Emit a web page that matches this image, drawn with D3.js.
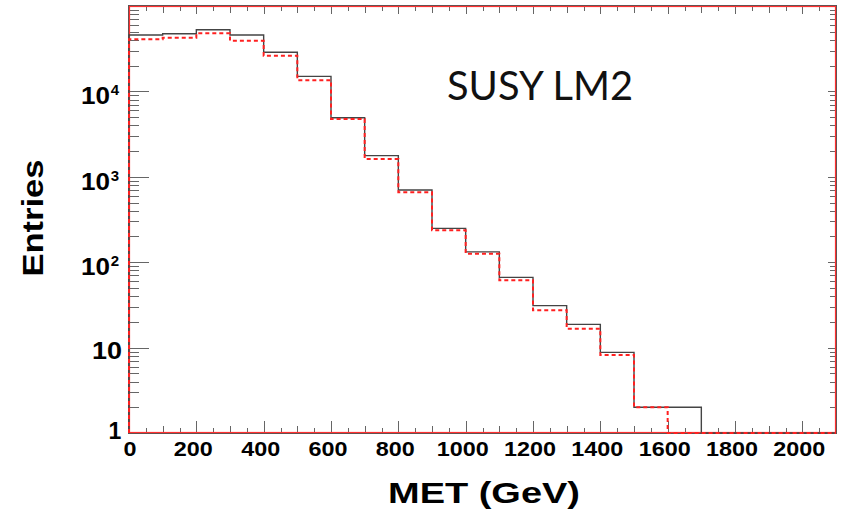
<!DOCTYPE html>
<html>
<head>
<meta charset="utf-8">
<style>
  body { margin: 0; background: #fff; }
  svg { display: block; }
  .tick line { shape-rendering: crispEdges; }
  .lab { font-family: "Liberation Sans", Arial, sans-serif; font-weight: bold; fill: #000; }
</style>
</head>
<body>
<script src="https://d3js.org/d3.v7.min.js"></script>
<script>
// bin lower edges (GeV), 100 GeV wide
var binLow = [0, 100, 200, 300, 400, 500, 600, 700, 800, 900, 1000,
              1100, 1200, 1300, 1400, 1500, 1600, 1700, 1800, 1900, 2000];
var binWidth = 100;
// solid (black) histogram
var blackVals = [45700, 47400, 52800, 45700, 28700, 15000, 4920, 1770, 700, 249, 132,
                 66.5, 31, 18.7, 8.8, 2, 2, 0, 0, 0, 0];
// dashed (red) histogram
var redVals = [40700, 42500, 47900, 39200, 26200, 13500, 4750, 1620, 658, 236, 126,
               61.4, 27.3, 16.6, 8.2, 2, 0, 0, 0, 0, 0];

var xMajor = [0, 200, 400, 600, 800, 1000, 1200, 1400, 1600, 1800, 2000];
var xMid = [100, 300, 500, 700, 900, 1100, 1300, 1500, 1700, 1900, 2100];
var xMinor = [50, 150, 250, 350, 450, 550, 650, 750, 850, 950, 1050, 1150, 1250,
              1350, 1450, 1550, 1650, 1750, 1850, 1950, 2050];
var yDecades = [1, 10, 100, 1000, 10000, 100000];
var yExp = ["", "", "2", "3", "4"];

var W = 842, H = 510;
var margin = {top: 6, right: 6, bottom: 77, left: 129},
    width = W - margin.left - margin.right,
    height = H - margin.top - margin.bottom;

var svg = d3.select("body").append("svg")
    .attr("width", W)
    .attr("height", H);

var g = svg.append("g")
    .attr("transform", "translate(" + margin.left + "," + margin.top + ")");

var x = d3.scaleLinear().domain([0, 2100]).range([0, width]);
var y = d3.scaleLog().domain([1, 100000]).range([height, 0]);

var yMinor = [];
yDecades.slice(0, -1).forEach(function(d) {
  [2, 3, 4, 5, 6, 7, 8, 9].forEach(function(k) { yMinor.push(d * k); });
});

function tickAxis(axis, cls) {
  var a = g.append("g").attr("class", cls).call(axis);
  a.select(".domain").remove();
  a.selectAll("text").remove();
  return a;
}

// bottom ticks (pointing inward)
tickAxis(d3.axisBottom(x).tickValues(xMajor).tickSize(-12), "xb").attr("transform", "translate(0," + height + ")");
tickAxis(d3.axisBottom(x).tickValues(xMid).tickSize(-7), "xb").attr("transform", "translate(0," + height + ")");
tickAxis(d3.axisBottom(x).tickValues(xMinor).tickSize(-5), "xb").attr("transform", "translate(0," + height + ")");
// top ticks
tickAxis(d3.axisTop(x).tickValues(xMajor).tickSize(-8), "xt");
tickAxis(d3.axisTop(x).tickValues(xMid).tickSize(-7), "xt");
tickAxis(d3.axisTop(x).tickValues(xMinor).tickSize(-5), "xt");
// left ticks
tickAxis(d3.axisLeft(y).tickValues(yDecades).tickSize(-20), "yl");
tickAxis(d3.axisLeft(y).tickValues(yMinor).tickSize(-10), "yl");
// right ticks
tickAxis(d3.axisRight(y).tickValues(yDecades).tickSize(-8), "yr").attr("transform", "translate(" + width + ",0)");
tickAxis(d3.axisRight(y).tickValues(yMinor).tickSize(-6), "yr").attr("transform", "translate(" + width + ",0)");

g.selectAll(".tick line").attr("stroke", "#666").attr("stroke-width", 1);

// frame
g.append("rect")
  .attr("x", -0.5).attr("y", -0.5)
  .attr("width", width + 1).attr("height", height + 1)
  .attr("fill", "none").attr("stroke", "#555").attr("stroke-width", 1);
g.append("rect")
  .attr("x", 0.5).attr("y", 0.5)
  .attr("width", width - 1).attr("height", height - 1)
  .attr("fill", "none").attr("stroke", "#ff3030").attr("stroke-width", 1.2);

// histogram outline points
function steps(vals) {
  var pts = [[binLow[0], 0]];
  vals.forEach(function(v, i) {
    pts.push([binLow[i], v]);
    pts.push([binLow[i] + binWidth, v]);
  });
  pts.push([binLow[binLow.length - 1] + binWidth, 0]);
  return pts;
}
var line = d3.line()
  .x(function(d) { return x(d[0]); })
  .y(function(d) { return d[1] > 0 ? y(d[1]) : y(1); });

g.append("path")
  .attr("d", line(steps(blackVals)))
  .attr("fill", "none")
  .attr("stroke", "#444")
  .attr("stroke-width", 1.4);

g.append("path")
  .attr("d", line(steps(redVals)))
  .attr("fill", "none")
  .attr("stroke", "#ff2020")
  .attr("stroke-width", 2)
  .attr("stroke-dasharray", "4,3");

// x tick labels
g.selectAll(".xlab")
  .data(xMajor)
  .enter().append("text")
  .attr("class", "lab")
  .attr("x", function(d) { return x(d) - (d === 0 ? -1 : 3); })
  .attr("y", height + 23)
  .attr("text-anchor", "middle")
  .attr("font-size", 20)
  .attr("textLength", function(d) { return String(d).length * 13; })
  .attr("lengthAdjust", "spacingAndGlyphs")
  .text(function(d) { return d; });

// y tick labels
yDecades.slice(0, -1).forEach(function(d, i) {
  var t = g.append("text")
    .attr("class", "lab")
    .attr("font-size", 23);
  if (d === 1) {
    t.attr("x", -14).attr("y", y(d) + 6)
      .attr("text-anchor", "middle")
      .text("1");
  } else if (d === 10) {
    t.attr("x", -7).attr("y", y(d) + 11)
      .attr("text-anchor", "end")
      .attr("textLength", 30).attr("lengthAdjust", "spacingAndGlyphs")
      .text("10");
  } else {
    t.attr("x", -19).attr("y", y(d) + 13)
      .attr("text-anchor", "end")
      .attr("textLength", 29).attr("lengthAdjust", "spacingAndGlyphs")
      .text("10");
    g.append("text")
      .attr("class", "lab")
      .attr("font-size", 15)
      .attr("x", -14).attr("y", y(d) + 4)
      .attr("text-anchor", "middle")
      .text(yExp[i]);
  }
});

// axis titles
svg.append("text")
  .attr("class", "lab")
  .attr("font-size", 30)
  .attr("x", 484).attr("y", 503)
  .attr("text-anchor", "middle")
  .attr("textLength", 192).attr("lengthAdjust", "spacingAndGlyphs")
  .text("MET (GeV)");

svg.append("text")
  .attr("class", "lab")
  .attr("font-size", 29)
  .attr("transform", "translate(43,218) rotate(-90)")
  .attr("text-anchor", "middle")
  .attr("textLength", 117).attr("lengthAdjust", "spacingAndGlyphs")
  .text("Entries");

svg.append("text")
  .attr("font-family", "Lato, 'Open Sans', sans-serif")
  .attr("font-size", 40)
  .attr("fill", "#111")
  .attr("x", 447).attr("y", 100)
  .attr("textLength", 186).attr("lengthAdjust", "spacingAndGlyphs")
  .text("SUSY LM2");
</script>
</body>
</html>
